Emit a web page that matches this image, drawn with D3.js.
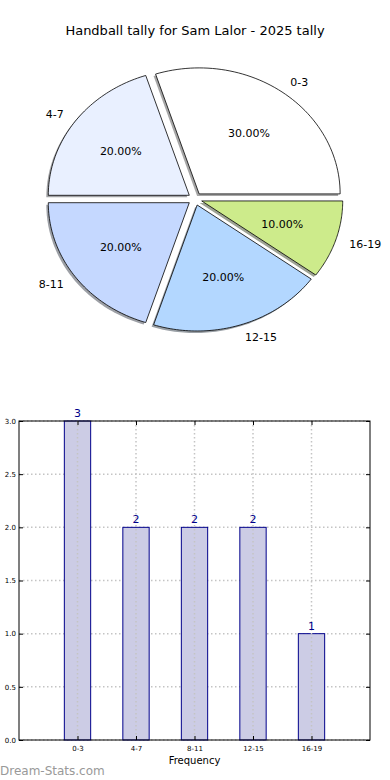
<!DOCTYPE html>
<html><head><meta charset="utf-8">
<script src="https://cdn.jsdelivr.net/npm/d3@7"></script>
<style>body{margin:0;background:#fff}svg{display:block;font-family:"DejaVu Sans",sans-serif}</style>
</head><body><svg id="c" width="390" height="780"></svg>
<script>
const categories = ["0-3","4-7","8-11","12-15","16-19"];
const values = [3,2,2,2,1];
const sliceColors = ["#ffffff","#e9f0ff","#c5d8ff","#b3d7ff","#cdeb8b"];
const yTicks = [0,0.5,1,1.5,2,2.5,3];
const title = "Handball tally for Sam Lalor - 2025 tally";

const svg = d3.select("#c");
svg.append("text").attr("x",195).attr("y",35).attr("text-anchor","middle")
  .attr("font-size",13).attr("fill","#000").text(title);

// Pie (elliptical, matplotlib style: start at 0deg, counterclockwise)
const cx=195, cy=199, rx=141, ry=126, explode=0.05;
const total = d3.sum(values);
const angle = d3.scaleLinear().domain([0,total]).range([0,2*Math.PI]);
const cum = d3.cumsum(values);
const slices = values.map((v,i)=>({v,i,a0:angle(cum[i]-v),a1:angle(cum[i])}));
function ellPath(a0,a1,ox,oy){
  const pts=[[ox,oy]];
  const n=60;
  for(let k=0;k<=n;k++){const a=a0+(a1-a0)*k/n;pts.push([ox+rx*Math.cos(a),oy-ry*Math.sin(a)]);}
  return d3.line()(pts)+"Z";
}
const pie = svg.append("g");
slices.forEach(s=>{
  const m=(s.a0+s.a1)/2;
  s.ox=cx+explode*rx*Math.cos(m); s.oy=cy-explode*ry*Math.sin(m); s.m=m;
});
// shadows
slices.forEach(s=>{
  const c=d3.rgb(sliceColors[s.i]);
  pie.append("path").attr("d",ellPath(s.a0,s.a1,s.ox-2,s.oy+2))
    .attr("fill",d3.rgb(c.r*0.3,c.g*0.3,c.b*0.3)).attr("fill-opacity",0.5).attr("stroke","none");
});
slices.forEach(s=>{
  pie.append("path").attr("d",ellPath(s.a0,s.a1,s.ox,s.oy))
    .attr("fill",sliceColors[s.i]).attr("stroke","#000").attr("stroke-width",0.8).attr("stroke-linejoin","round");
});
slices.forEach(s=>{
  const lx=cx+(1.1+explode)*rx*Math.cos(s.m), ly=cy-(1.1+explode)*ry*Math.sin(s.m);
  pie.append("text").attr("x",lx).attr("y",ly).attr("dy","0.35em")
    .attr("text-anchor",Math.cos(s.m)>0?"start":"end").attr("font-size",11).text(categories[s.i]);
  const px=cx+(0.6+explode)*rx*Math.cos(s.m), py=cy-(0.6+explode)*ry*Math.sin(s.m);
  pie.append("text").attr("x",px).attr("y",py).attr("dy","0.35em")
    .attr("text-anchor","middle").attr("font-size",11).text((s.v/total*100).toFixed(2)+"%");
});

// Bar chart
const L=19,R=370,T=421,B=740;
const x = d3.scaleLinear().domain([-1,5]).range([L,R]);
const y = d3.scaleLinear().domain([0,3]).range([B,T]);
const g = svg.append("g");
const gridColor="#c4c4c4";
g.selectAll(".hg").data(yTicks).join("line").attr("x1",L).attr("x2",R)
  .attr("y1",d=>y(d)).attr("y2",d=>y(d)).attr("stroke",gridColor).attr("stroke-width",1.5).attr("stroke-dasharray","1.5,2.5");
const bw=0.45;
g.selectAll(".bar").data(values).join("rect")
  .attr("x",(d,i)=>x(i-bw/2)).attr("width",x(bw)-x(0))
  .attr("y",d=>y(d)).attr("height",d=>y(0)-y(d))
  .attr("fill","#ccccE5").attr("stroke","#00008b").attr("stroke-width",1);
g.selectAll(".vg").data(categories).join("line").attr("x1",(d,i)=>x(i)).attr("x2",(d,i)=>x(i))
  .attr("y1",T).attr("y2",B).attr("stroke",gridColor).attr("stroke-width",1.5).attr("stroke-dasharray","1.5,2.5");
g.selectAll(".vl").data(values).join("text").attr("x",(d,i)=>x(i)).attr("y",d=>y(d)-4)
  .attr("text-anchor","middle").attr("font-size",11).attr("fill","#00008b").text(d=>d);
g.append("rect").attr("x",L).attr("y",T).attr("width",R-L).attr("height",B-T)
  .attr("fill","none").attr("stroke","#000").attr("stroke-width",1);
const ya = g.append("g").attr("transform",`translate(${L},0)`)
  .call(d3.axisLeft(y).tickValues(yTicks).tickFormat(d3.format(".1f")).tickSize(-4).tickPadding(3));
ya.select(".domain").remove();
ya.selectAll("text").attr("font-size",7).attr("font-family","DejaVu Sans").attr("fill","#000");
const yr = g.append("g").attr("transform",`translate(${R},0)`)
  .call(d3.axisRight(y).tickValues(yTicks).tickFormat("").tickSize(-4));
yr.select(".domain").remove();
const xa = g.append("g").attr("transform",`translate(0,${B})`)
  .call(d3.axisBottom(x).tickValues(d3.range(categories.length)).tickFormat(i=>categories[i]).tickSize(-4).tickPadding(6));
xa.select(".domain").remove();
xa.selectAll("text").attr("font-size",7).attr("font-family","DejaVu Sans").attr("fill","#000");
const xt = g.append("g").attr("transform",`translate(0,${T})`)
  .call(d3.axisTop(x).tickValues(d3.range(categories.length)).tickFormat("").tickSize(-4));
xt.select(".domain").remove();
svg.append("text").attr("x",(L+R)/2).attr("y",764).attr("text-anchor","middle").attr("font-size",10).text("Frequency");
svg.append("text").attr("x",0).attr("y",775).attr("font-size",12)
  .attr("fill","#999").text("Dream-Stats.com");
</script></body></html>
